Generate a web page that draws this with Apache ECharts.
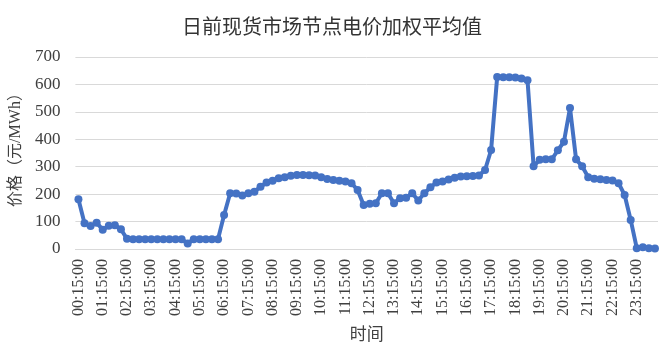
<!DOCTYPE html>
<html>
<head>
<meta charset="utf-8">
<script src="https://cdn.jsdelivr.net/npm/echarts@6/dist/echarts.min.js"></script>
<style>html,body{margin:0;padding:0;background:#fff}#c{width:664px;height:351px}</style>
</head>
<body>
<div id="c"></div>
<script>
var titleText = '日前现货市场节点电价加权平均值';
var yAxisName = '价格（元/MWh）';
var xAxisName = '时间';
var yTicks = [0, 100, 200, 300, 400, 500, 600, 700];

// 96 quarter-hour slots 00:15:00 ... 24:00:00
var times = [];
for (var h = 0; h < 24; h++) {
  ['15', '30', '45'].forEach(function (m) { times.push((h < 10 ? '0' : '') + h + ':' + m + ':00'); });
  var nh = h + 1;
  times.push((nh < 10 ? '0' : '') + nh + ':00:00');
}

var prices = [
  181, 94, 84, 96, 70, 85, 87, 72,
  37, 36, 36, 36, 36, 36, 36, 36,
  36, 36, 20, 36, 36, 36, 36, 36,
  124, 203, 202, 195, 203, 209, 227, 242,
  249, 258, 262, 267, 270, 270, 269, 268,
  262, 255, 252, 249, 246, 240, 215, 160,
  165, 167, 203, 203, 167, 185, 187, 203,
  177, 203, 225, 242, 246, 253, 260, 264,
  265, 266, 268, 288, 361, 627, 626, 626,
  625, 622, 615, 302, 325, 327, 327, 360,
  391, 514, 327, 302, 262, 256, 254, 252,
  250, 240, 197, 106, 3, 6, 3, 2
];

var chart = echarts.init(document.getElementById('c'));
chart.setOption({
  animation: false,
  backgroundColor: '#ffffff',
  title: {
    text: titleText,
    left: 'center',
    top: 11,
    textStyle: { fontFamily: 'Noto Sans CJK SC', fontSize: 20, fontWeight: 'normal', color: '#333333' }
  },
  grid: { left: 72, right: 6, top: 57, bottom: 102, containLabel: false },
  xAxis: {
    type: 'category',
    data: times,
    boundaryGap: true,
    name: xAxisName,
    nameLocation: 'middle',
    nameGap: 76,
    nameTextStyle: { fontFamily: 'Noto Sans CJK SC', fontSize: 17, color: '#404040' },
    axisLine: { show: true, lineStyle: { color: '#d9d9d9', width: 1 } },
    axisTick: { show: false },
    axisLabel: {
      interval: 3,
      rotate: 90,
      margin: 10,
      fontFamily: 'Liberation Serif',
      fontSize: 16,
      color: '#404040'
    },
    splitLine: { show: false }
  },
  yAxis: {
    type: 'value',
    min: yTicks[0],
    max: yTicks[yTicks.length - 1],
    interval: 100,
    name: yAxisName,
    nameLocation: 'middle',
    nameGap: 49,
    nameTextStyle: { fontFamily: 'Liberation Serif, Noto Sans CJK SC', fontSize: 16, color: '#404040', padding: [0, 0, 0, 14] },
    axisLine: { show: false },
    axisTick: { show: false },
    axisLabel: { fontFamily: 'Liberation Serif', fontSize: 17, color: '#404040', margin: 15 },
    splitLine: { lineStyle: { color: '#d9d9d9', width: 1 } }
  },
  series: [{
    type: 'line',
    data: prices,
    symbol: 'circle',
    symbolSize: 8,
    showAllSymbol: true,
    lineStyle: { color: '#4472C4', width: 4 },
    itemStyle: { color: '#4472C4' }
  }]
});
</script>
</body>
</html>
